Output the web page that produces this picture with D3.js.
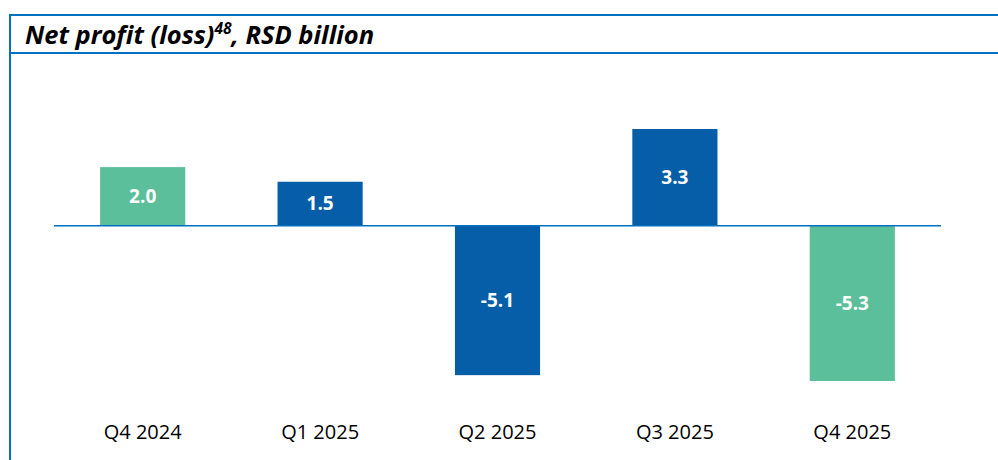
<!DOCTYPE html>
<html>
<head>
<meta charset="utf-8">
<script src="https://cdn.jsdelivr.net/npm/d3@7"></script>
<style>
  body { margin: 0; background: #fff; }
  svg { display: block; }
</style>
</head>
<body>
<div id="chart"></div>
<script>
var quarters = ["Q4 2024", "Q1 2025", "Q2 2025", "Q3 2025", "Q4 2025"]
var profit = [2.0, 1.5, -5.1, 3.3, -5.3]
var barColors = ["#5bbf9b", "#065ea8", "#065ea8", "#065ea8", "#5bbf9b"]

var W = 998, H = 460
var svg = d3.select('#chart').append('svg')
  .attr('width', W)
  .attr('height', H)

// frame
var frameColor = "#0070c0"
svg.append("line").attr("x1", 9).attr("x2", W).attr("y1", 15).attr("y2", 15)
  .attr("stroke", frameColor).attr("stroke-width", 2)
svg.append("line").attr("x1", 9).attr("x2", W).attr("y1", 53).attr("y2", 53)
  .attr("stroke", frameColor).attr("stroke-width", 2)
svg.append("line").attr("x1", 10).attr("x2", 10).attr("y1", 14).attr("y2", H)
  .attr("stroke", frameColor).attr("stroke-width", 2)

// title with superscript
var title = svg.append("text")
  .attr("x", 25).attr("y", 44)
  .attr("font-family", "Open Sans, sans-serif")
  .attr("font-size", 25.5)
  .attr("font-weight", "bold")
  .attr("font-style", "italic")
  .attr("fill", "#000")
title.append("tspan").text("Net profit (loss)")
title.append("tspan").attr("font-size", 15.5).attr("dy", -10).text("48")
title.append("tspan").attr("dy", 10).text(", RSD billion")

var x = d3.scaleBand()
  .domain(quarters)
  .range([54, 941])
  .paddingInner(0.52)
  .paddingOuter(0.26)

var y = d3.scaleLinear()
  .domain([-5.3, 3.3])
  .range([381, 129])

var data = quarters.map(function(q, i) { return {q: q, v: profit[i], c: barColors[i]} })

svg.selectAll("rect.bar").data(data).enter().append("rect")
  .attr("class", "bar")
  .attr("x", d => x(d.q))
  .attr("width", x.bandwidth())
  .attr("y", d => y(Math.max(0, d.v)))
  .attr("height", d => Math.abs(y(d.v) - y(0)))
  .attr("fill", d => d.c)

// zero line
svg.append("line")
  .attr("x1", 54).attr("x2", 941)
  .attr("y1", y(0)).attr("y2", y(0))
  .attr("stroke", "#0070c0").attr("stroke-width", 1.5)

svg.selectAll("text.val").data(data).enter().append("text")
  .attr("class", "val")
  .attr("x", d => x(d.q) + x.bandwidth() / 2)
  .attr("y", d => (y(d.v) + y(0)) / 2)
  .attr("dy", "0.35em")
  .attr("text-anchor", "middle")
  .attr("font-family", "Open Sans, sans-serif")
  .attr("font-size", 19)
  .attr("font-weight", "bold")
  .attr("fill", "#fff")
  .text(d => d.v.toFixed(1))

var xAxis = g => g
  .attr("transform", "translate(0,425)")
  .call(d3.axisBottom(x).tickSize(0).tickPadding(0))
  .call(g => g.select(".domain").remove())
  .call(g => g.selectAll("text")
    .attr("font-family", "Open Sans, sans-serif")
    .attr("font-size", 20)
    .attr("fill", "#000"))

svg.append("g").call(xAxis)
</script>
</body>
</html>
